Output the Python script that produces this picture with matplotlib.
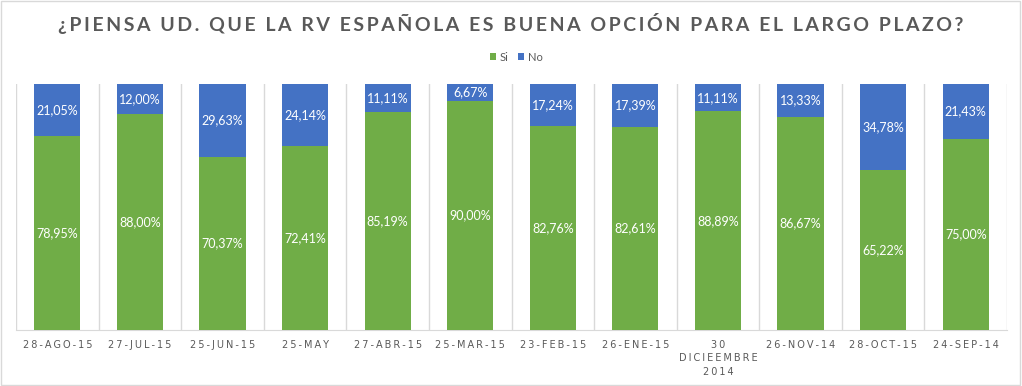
import matplotlib.pyplot as plt
import matplotlib.patches as patches
import numpy as np

# data
fechas = ['28-AGO-15', '27-JUL-15', '25-JUN-15', '25-MAY', '27-ABR-15', '25-MAR-15',
          '23-FEB-15', '26-ENE-15', '30\nDICIEEMBRE\n2014', '26-NOV-14', '28-OCT-15', '24-SEP-14']
si = [78.95, 88.00, 70.37, 72.41, 85.19, 90.00, 82.76, 82.61, 88.89, 86.67, 65.22, 75.00]
no = [21.05, 12.00, 29.63, 24.14, 11.11, 6.67, 17.24, 17.39, 11.11, 13.33, 34.78, 21.43]

verde = '#70AD47'
azul = '#4472C4'
gris = '#595959'

plt.rcParams['font.family'] = ['Lato', 'DejaVu Sans']

si_a = np.array(si)
no_a = np.array(no)
total = si_a + no_a
# 100% stacked, so normalise each column
si_n = si_a / total * 100
no_n = no_a / total * 100

fig = plt.figure(figsize=(10.22, 3.86), dpi=100)
ax = fig.add_axes([16/1022, 56/386, 991/1022, 246/386])

x = np.arange(len(fechas))
ax.bar(x, si_n, width=0.56, color=verde, label='Si', zorder=3)
ax.bar(x, no_n, width=0.56, bottom=si_n, color=azul, label='No', zorder=3)

for i in range(len(x)):
    ax.text(x[i], si_n[i] / 2, f'{si[i]:.2f}%'.replace('.', ','), ha='center', va='center',
            color='white', fontsize=9, zorder=4)
    ax.text(x[i], si_n[i] + no_n[i] / 2, f'{no[i]:.2f}%'.replace('.', ','), ha='center', va='center',
            color='white', fontsize=9, zorder=4)

ax.set_xlim(-0.5, len(x) - 0.5)
ax.set_ylim(0, 100)
ax.set_yticks([])

# vertical separators between the categories
for b in np.arange(-0.5, len(x), 1.0):
    ax.axvline(b, color='#D9D9D9', lw=1, zorder=1)

def espaciar(t, sep='\u2009'):
    return '\n'.join(sep.join(list(linea)) for linea in t.split('\n'))

ax.set_xticks(x)
ax.set_xticklabels([espaciar(f) for f in fechas], fontsize=7, color=gris,
                   linespacing=1.45, family=['DejaVu Sans'])
ax.tick_params(axis='x', length=0, pad=7)
for s in ['top', 'left', 'right']:
    ax.spines[s].set_visible(False)
ax.spines['bottom'].set_color('#D9D9D9')

titulo = '¿PIENSA UD. QUE LA RV ESPAÑOLA ES BUENA OPCIÓN PARA EL LARGO PLAZO?'
fig.text(0.5, 0.94, espaciar(titulo, '\u2009'), ha='center', va='center',
         fontsize=14, fontweight='bold', color=gris, family=['Lato', 'DejaVu Sans'])

leg = fig.legend(loc='center', bbox_to_anchor=(0.505, 0.852), ncol=2, frameon=False,
                 fontsize=8, handlelength=0.6, handleheight=0.6, handletextpad=0.3,
                 columnspacing=0.8)
for t in leg.get_texts():
    t.set_color(gris)

# light border round the whole chart
fig.patches.append(patches.Rectangle((0.001, 0.002), 0.997, 0.995, transform=fig.transFigure,
                                     fill=False, edgecolor='#D9D9D9', lw=1))

plt.savefig('out.png', dpi=100)
